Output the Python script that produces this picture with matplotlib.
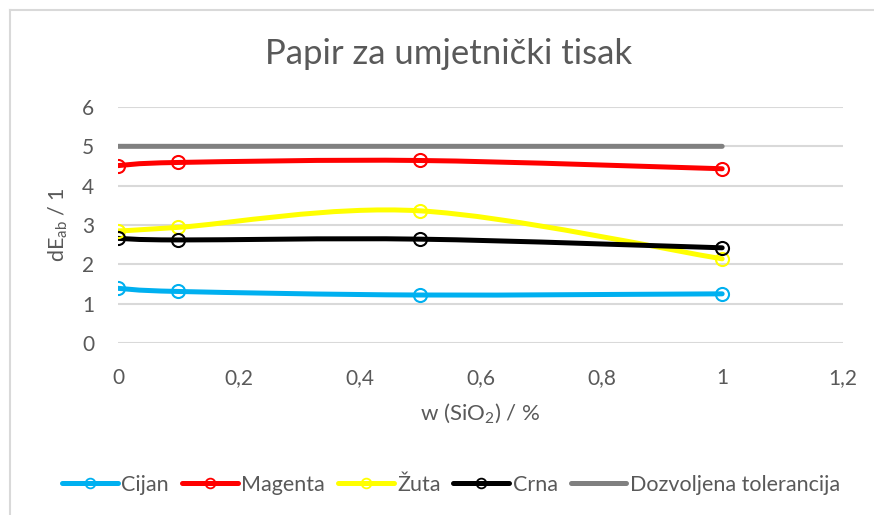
import matplotlib

matplotlib.use("Agg")
import matplotlib.pyplot as plt
from matplotlib.lines import Line2D
from matplotlib.patches import PathPatch
from matplotlib.path import Path

# values
w_sio2 = [0, 0.1, 0.5, 1]
cijan = [1.39, 1.31, 1.22, 1.25]
magenta = [4.51, 4.59, 4.64, 4.43]
zuta = [2.85, 2.94, 3.36, 2.14]
crna = [2.66, 2.62, 2.64, 2.42]
tolerancija = [5, 5, 5, 5]

series_names = ["Cijan", "Magenta", "Žuta", "Crna", "Dozvoljena tolerancija"]
series_colors = ["#00B0F0", "#FF0000", "#FFFF00", "#000000", "#808080"]
x_ticks = [0, 0.2, 0.4, 0.6, 0.8, 1.0, 1.2]
y_ticks = [0, 1, 2, 3, 4, 5, 6]

TEXT = "#595959"
GRID = "#D9D9D9"
FONT = "Lato"

plt.rcParams["font.family"] = [FONT, "DejaVu Sans"]
plt.rcParams["mathtext.fontset"] = "custom"
plt.rcParams["mathtext.rm"] = FONT
plt.rcParams["mathtext.it"] = FONT


def smooth_path(xs, ys):
    # Excel-like smoothed line: cubic bezier segments with Catmull-Rom tangents
    pts = list(zip(xs, ys))
    n = len(pts)
    verts = [pts[0]]
    codes = [Path.MOVETO]
    for i in range(n - 1):
        p0 = pts[max(i - 1, 0)]
        p1 = pts[i]
        p2 = pts[i + 1]
        p3 = pts[min(i + 2, n - 1)]
        c1 = (p1[0] + (p2[0] - p0[0]) / 6, p1[1] + (p2[1] - p0[1]) / 6)
        c2 = (p2[0] - (p3[0] - p1[0]) / 6, p2[1] - (p3[1] - p1[1]) / 6)
        verts += [c1, c2, p2]
        codes += [Path.CURVE4] * 3
    return Path(verts, codes)


fig = plt.figure(figsize=(8.74, 5.15), dpi=100)
ax = fig.add_axes([118 / 874, 1 - 343 / 515, (843 - 118) / 874, (343 - 107) / 515])

lw = 3.6
handles = []
for name, ys, color in zip(series_names, [cijan, magenta, zuta, crna, tolerancija], series_colors):
    has_marker = name != "Dozvoljena tolerancija"
    ax.add_patch(PathPatch(smooth_path(w_sio2, ys), fill=False, edgecolor=color,
                           lw=lw, capstyle="round", joinstyle="round", zorder=3))
    if has_marker:
        ax.plot(w_sio2, ys, ls="none", marker="o", ms=9.4, mfc="none",
                mec=color, mew=1.5, zorder=4)
    handles.append(Line2D([], [], color=color, lw=lw,
                          marker="o" if has_marker else None, ms=7, mfc="none",
                          mec=color, mew=1.3, solid_capstyle="round"))

ax.set_xlim(0, 1.2)
ax.set_ylim(0, 6)
ax.set_xticks(x_ticks)
ax.set_xticklabels([f"{t:g}".replace(".", ",") for t in x_ticks])
ax.set_yticks(y_ticks)
ax.tick_params(length=0, labelsize=15, labelcolor=TEXT)
ax.tick_params(axis="y", pad=17)
ax.tick_params(axis="x", pad=18)
ax.grid(axis="y", color=GRID, lw=1.5)
ax.set_axisbelow(True)
for spine in ax.spines.values():
    spine.set_visible(False)

ax.set_ylabel("dE$_{\\mathrm{ab}}$ / 1", fontsize=15.5, color=TEXT, labelpad=9)
ax.set_xlabel("w (SiO$_2$) / %", fontsize=16, color=TEXT, labelpad=10)
fig.text(449 / 874, 1 - 54 / 515, "Papir za umjetnički tisak", ha="center", va="center",
         fontsize=25, color=TEXT)

fig.legend(handles, series_names, loc="center", bbox_to_anchor=(451 / 874, 1 - 485 / 515),
           ncol=5, frameon=False, fontsize=15.5, labelcolor=TEXT, handlelength=2.6,
           handletextpad=0.15, columnspacing=0.6)

# chart border (only top and left edges are inside the crop)
fig.add_artist(Line2D([9.5 / 874, 9.5 / 874], [0, 1 - 9.5 / 515], color=GRID, lw=1.5))
fig.add_artist(Line2D([9.5 / 874, 1], [1 - 9.5 / 515, 1 - 9.5 / 515], color=GRID, lw=1.5))

fig.savefig("out.png", dpi=100)
